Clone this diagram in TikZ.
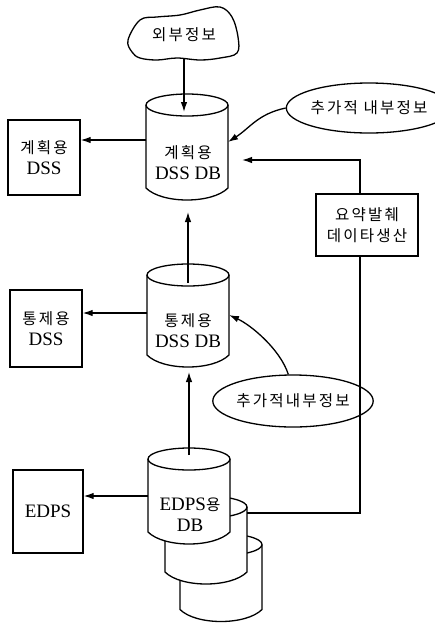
\documentclass[tikz,border=0pt]{standalone}
\usepackage{fontspec}
\setmainfont{Liberation Serif}
\newfontfamily\krfont{Noto Sans CJK KR}[Scale=0.82, LetterSpace=14]
\newcommand{\ko}[1]{{\krfont #1}}
\usetikzlibrary{arrows.meta, positioning, calc, shapes.geometric}
\tikzset{
  font=\fontsize{19pt}{21pt}\selectfont,
  >={Latex[length=10pt, width=6.5pt]},
  %
  line/.style={draw=black, line width=1.3pt},
  box/.style={line, fill=white, align=center, inner sep=0pt},
  note/.style={line, ellipse, inner sep=0pt},
  %
  drumbody/.style={minimum width=82pt, inner sep=0pt, outer sep=0pt},
  drum/.style={line, fill=white},
  dbtext/.style={align=center, inner sep=1pt},
  %
  flow/.style={line, ->},
  link/.style={line},
}
% outline of a database drum from its body node
\newcommand{\drumline}[1]{%
  \draw[drum] (#1.north west) -- (#1.south west)
    .. controls +(16,16) and +(-16,16) .. (#1.south east)
    -- (#1.north east)
    arc[start angle=0, end angle=180, x radius=41pt, y radius=11pt] -- cycle;
  \draw[line] (#1.north west)
    arc[start angle=180, end angle=360, x radius=41pt, y radius=11pt];
}

\begin{document}
\begin{tikzpicture}[x=1pt, y=-1pt]
  \useasboundingbox (0,0) rectangle (435,625);

  % ---- drum bodies ------------------------------------------------------
  \node[drumbody, minimum height=83pt] (planDB) at (187,146.5) {};
  \node[drumbody, minimum height=80pt] (ctrlDB) at (188,315) {};
  \node[drumbody, minimum height=65pt] (edps3)  at (221,577) {};
  \node[drumbody, minimum height=65pt] (edps2)  at (206,539.5) {};
  \node[drumbody, minimum height=73pt] (edpsDB) at (189,495.5) {};

  \drumline{planDB}
  \drumline{ctrlDB}
  \drumline{edps3}
  \drumline{edps2}
  \drumline{edpsDB}

  \node[dbtext] (planTxt) at (188,162.5) {\ko{계획용}\\DSS DB};
  \node[dbtext] (ctrlTxt) at (188,331) {\ko{통제용}\\DSS DB};
  \node[dbtext] (edpsTxt) at (190,515) {EDPS\ko{용}\\DB};

  % ---- outside info -----------------------------------------------------
  \draw[line] plot[smooth cycle, tension=0.6] coordinates {
    (128,40) (140,20) (157,17) (180,15) (200,10) (220,7) (232,17)
    (238,37) (237,53) (220,58) (200,60) (177,58) (157,60) (140,58) (132,52)};
  \node[inner sep=0pt] (outside) at (184,35) {\ko{외부정보}};
  \coordinate (cloudfoot) at (184,59);

  % ---- boxes ------------------------------------------------------------
  \node[box, minimum width=72pt, minimum height=75pt] (planDSS) at (44,157.5)
    {\ko{계획용}\\DSS};
  \node[box, minimum width=72pt, minimum height=77pt] (ctrlDSS) at (46,328.5)
    {\ko{통제용}\\DSS};
  \node[box, minimum width=70pt, minimum height=83pt] (edps) at (48,511.5)
    {EDPS};
  \node[box, minimum width=102pt, minimum height=62pt] (digest) at (367,225)
    {\ko{요약발췌}\\\ko{데이타생산}};

  % ---- extra internal info ----------------------------------------------
  \node[note, minimum width=122pt, minimum height=50pt] (noteA) at (369,108)
    {\ko{추가적 내부정보}};
  \node[note, minimum width=127pt, minimum height=52pt] (noteB) at (293,401)
    {\ko{추가적내부정보}};

  % ---- arrows -----------------------------------------------------------
  \draw[flow, shorten >=-7pt] (cloudfoot) -- (cloudfoot |- planDB.north);
  \draw[flow, shorten <=-8pt, shorten >=24pt]
    (ctrlDB.north) -- (ctrlDB.north |- planDB.south);
  \draw[flow, shorten <=4pt, shorten >=17pt]
    (edpsDB.north) -- (edpsDB.north |- ctrlDB.south);

  \draw[flow] (planDB.west |- 0,140) -- (planDSS.east |- 0,140);
  \draw[flow] (ctrlDB.west |- 0,313) -- (ctrlDSS.east |- 0,313);
  \draw[flow] (edpsDB.west |- 0,496) -- (edps.east |- 0,496);

  \draw[flow] (noteA.west) .. controls +(-28,6) and +(22,-14)
    .. (planDB.east |- 0,142);
  \draw[flow] (noteB.100) .. controls +(-8,-25) and +(22,10)
    .. (ctrlDB.east |- 0,315);

  \draw[flow, shorten >=14pt] ($(digest.north)+(-7,0)$) |- (planDB.east |- 0,160);
  \draw[link] ($(digest.south)+(-7,0)$) |- (edps2.east |- 0,513);

\end{tikzpicture}
\end{document}
